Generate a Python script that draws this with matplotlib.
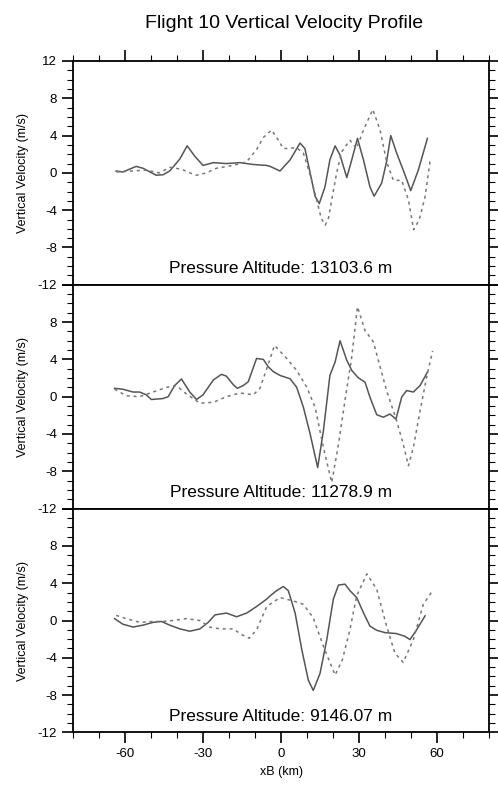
import numpy as np
import matplotlib
matplotlib.use("Agg")
from matplotlib import pyplot as plt
from matplotlib.ticker import MultipleLocator

plt.rcParams['font.family'] = ['Liberation Sans', 'DejaVu Sans']
plt.rcParams['axes.unicode_minus'] = False

# Panel 1: 13103.6 m
x1_solid = [-63.4, -60.8, -55.7, -53.1, -48.0, -45.4, -42.8, -38.9, -36.1, -33.2, -30.0, -26.0, -21.0,
            -15.8, -10.7, -5.5, -4.2, -0.4, 3.5, 7.3, 9.2, 11.2, 13.1, 14.7, 16.9, 18.8, 20.8, 22.7,
            25.3, 27.2, 29.4, 31.7, 34.2, 35.8, 38.7, 40.6, 42.2, 44.5, 47.0, 49.9, 52.8, 56.3]
y1_solid = [0.2, 0.1, 0.7, 0.5, -0.25, -0.2, 0.2, 1.5, 2.9, 1.8, 0.8, 1.1, 1.0,
            1.1, 0.9, 0.8, 0.7, 0.2, 1.4, 3.2, 2.6, 0.0, -2.5, -3.3, -1.5, 1.4, 2.9, 1.9,
            -0.5, 1.4, 3.7, 1.4, -1.5, -2.5, -1.1, 1.2, 4.0, 2.1, 0.3, -1.9, 0.3, 3.7]
x1_dash = [-63.4, -51.8, -46.7, -42.8, -38.3, -35.1, -32.5, -28.7, -24.8, -18.4, -13.2, -9.4, -6.8,
           -3.6, -1.0, 0.9, 6.0, 8.6, 11.2, 13.7, 15.5, 17.0, 18.3, 19.5, 21.4, 23.3, 26.5, 29.0,
           31.7, 35.3, 38.1, 40.6, 43.2, 46.4, 49.0, 51.0, 53.2, 55.4, 57.3, 58.1]
y1_dash = [0.1, 0.3, 0.0, 0.6, 0.4, 0.0, -0.25, 0.0, 0.5, 0.8, 1.2, 2.5, 3.8,
           4.6, 3.5, 2.6, 2.7, 2.1, -0.2, -2.9, -4.9, -5.6, -4.8, -2.9, 0.0, 2.25, 3.5, 2.6,
           4.6, 6.8, 4.6, 1.2, -0.8, -0.8, -2.9, -6.1, -5.0, -2.55, 1.2, 1.2]

# Panel 2: 11278.9 m
x2_solid = [-64.0, -60.8, -56.9, -54.4, -51.8, -49.9, -45.4, -43.4, -40.9, -38.3, -35.1, -32.5, -30.0,
            -26.0, -22.9, -21.0, -18.4, -16.8, -14.5, -12.6, -9.4, -6.8, -4.9, -3.0, -0.4, 3.5, 6.0,
            8.6, 11.2, 14.1, 16.3, 18.8, 20.8, 22.7, 25.3, 27.2, 29.7, 32.3, 34.2, 36.8, 39.3, 41.9,
            44.2, 46.4, 48.3, 50.9, 53.5, 56.3]
y2_solid = [0.9, 0.8, 0.5, 0.5, 0.2, -0.3, -0.2, 0.0, 1.2, 1.9, 0.5, -0.3, 0.2,
            1.8, 2.4, 2.2, 1.3, 0.9, 1.2, 1.6, 4.1, 4.0, 3.2, 2.7, 2.28, 1.92, 1.02,
            -1.13, -4.0, -7.6, -3.65, 2.28, 3.72, 6.0, 3.9, 2.82, 2.03, 1.56, -0.05, -1.93, -2.2, -1.86,
            -2.4, -0.05, 0.66, 0.5, 1.2, 2.64]
x2_dash = [-64.0, -59.5, -54.4, -49.2, -44.1, -40.2, -36.4, -31.2, -26.0, -21.0, -15.8, -10.7, -8.1,
           -5.5, -2.5, 2.2, 6.0, 9.9, 13.1, 16.3, 19.5, 22.1, 24.6, 27.2, 29.4, 32.3, 35.5, 38.1,
           40.6, 44.5, 47.0, 49.0, 50.9, 53.5, 56.0, 58.3]
y2_dash = [0.8, 0.1, 0.0, 0.5, 1.0, 1.2, 0.3, -0.7, -0.6, 0.0, 0.4, 0.2, 0.9,
           3.0, 5.5, 4.1, 2.82, 1.02, -1.13, -5.45, -9.2, -5.1, -0.4, 4.26, 9.65, 7.1, 5.9, 3.2,
           0.66, -2.6, -5.1, -7.4, -5.45, -1.5, 2.1, 4.9]

# Panel 3: 9146.07 m
x3_solid = [-64.0, -60.8, -56.9, -53.1, -49.2, -46.0, -42.8, -38.9, -35.1, -31.2, -28.0, -25.4, -21.0,
            -17.1, -13.2, -9.4, -5.5, -4.2, -1.7, 0.9, 2.8, 5.4, 8.0, 10.5, 12.4, 15.0, 17.6, 20.1,
            22.1, 24.6, 26.5, 29.1, 31.7, 34.2, 36.8, 40.0, 44.4, 47.7, 49.6, 52.2, 55.4]
y3_solid = [0.2, -0.4, -0.7, -0.5, -0.2, -0.1, -0.5, -0.9, -1.15, -0.9, -0.2, 0.6, 0.8,
            0.4, 0.8, 1.5, 2.3, 2.64, 3.2, 3.65, 3.2, 0.83, -3.14, -6.4, -7.5, -5.67, -2.05, 2.28,
            3.8, 3.9, 3.2, 2.46, 0.83, -0.6, -1.05, -1.3, -1.4, -1.7, -2.05, -0.97, 0.5]
x3_dash = [-63.4, -59.5, -54.4, -49.2, -45.4, -41.5, -36.4, -31.2, -27.4, -23.5, -18.4, -15.2, -12.2,
           -9.4, -5.5, -0.4, 4.7, 8.6, 12.4, 16.3, 20.8, 23.6, 26.5, 29.1, 33.0, 36.8, 40.6, 43.8,
           47.0, 50.9, 54.7, 58.0]
y3_dash = [0.55, 0.2, -0.2, -0.1, -0.1, 0.0, 0.2, 0.0, -0.7, -0.9, -0.9, -1.5, -1.9,
           -1.0, 1.5, 2.46, 2.1, 1.73, 0.29, -2.77, -5.85, -4.2, -0.97, 2.64, 5.0, 3.36, -0.6, -3.5,
           -4.5, -2.05, 1.73, 3.08]

altitudes = ["13103.6", "11278.9", "9146.07"]
panels = [(x1_solid, y1_solid, x1_dash, y1_dash),
          (x2_solid, y2_solid, x2_dash, y2_dash),
          (x3_solid, y3_solid, x3_dash, y3_dash)]

fig = plt.figure(figsize=(4.98, 7.9), dpi=100)
left, width, h = 0.1466, 0.8354, 0.2833
bottoms = [0.6395, 0.3562, 0.0729]

yticks = [12, 8, 4, 0, -4, -8, -12]
for k, (xs, ys, xd, yd) in enumerate(panels):
    ax = fig.add_axes([left, bottoms[k], width, h])
    ax.plot(xs, ys, color="#555555", lw=1.1, solid_joinstyle="round")
    ax.plot(xd, yd, color="#777777", lw=1.1, linestyle=(0, (2, 2.5)))
    ax.set_xlim(-80, 80)
    ax.set_ylim(-12, 12)
    ax.set_yticks(yticks)
    labels = [str(v) for v in yticks]
    if k > 0:
        labels[0] = ""
    ax.set_yticklabels(labels, fontsize=9.5)
    ax.yaxis.set_minor_locator(MultipleLocator(1))
    ax.set_xticks([-60, -30, 0, 30, 60])
    ax.xaxis.set_minor_locator(MultipleLocator(10))
    ax.tick_params(axis="y", which="both", direction="out", left=True, right=True)
    ax.tick_params(axis="both", which="major", length=8, width=1.2)
    ax.tick_params(axis="both", which="minor", length=4, width=0.8)
    if k == 0:
        ax.tick_params(axis="x", which="both", direction="out", top=True, bottom=False,
                       labelbottom=False, labeltop=False)
    elif k == 1:
        ax.tick_params(axis="x", which="both", top=False, bottom=False,
                       labelbottom=False)
    else:
        ax.tick_params(axis="x", which="both", direction="out", top=False, bottom=True,
                       labelsize=9.5)
        ax.set_xticklabels(["-60", "-30", "0", "30", "60"])
        ax.set_xlabel("xB (km)", fontsize=9, labelpad=4)
    for sp in ax.spines.values():
        sp.set_linewidth(1.3)
    ax.set_ylabel("Vertical Velocity (m/s)", fontsize=9, labelpad=6)
    ax.text(0, -10.3, "Pressure Altitude: " + altitudes[k] + " m", ha="center", va="center",
            fontsize=12.5)

fig.text(0.57, 0.970, "Flight 10 Vertical Velocity Profile", ha="center", va="center", fontsize=14)

plt.savefig("out.png", dpi=100)
